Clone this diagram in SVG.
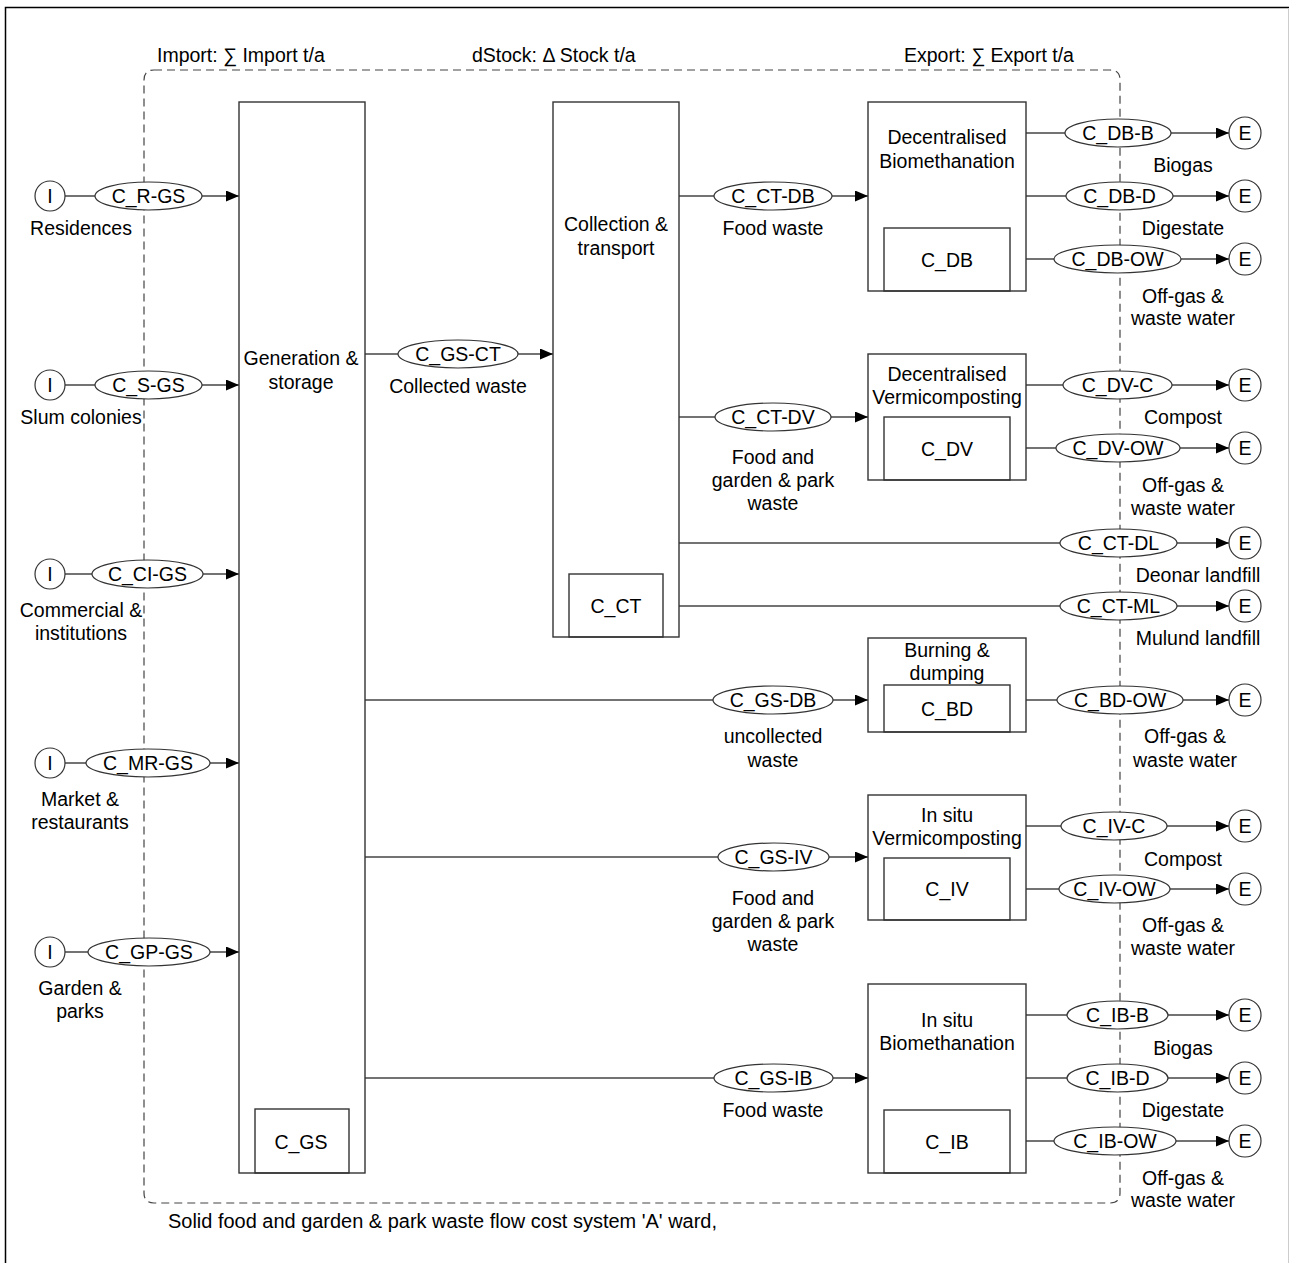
<svg xmlns="http://www.w3.org/2000/svg" width="1291" height="1263" viewBox="0 0 1291 1263">
<defs>
<marker id="arr" markerUnits="userSpaceOnUse" markerWidth="13" markerHeight="11" refX="13" refY="5.5" orient="auto">
<path d="M0,0 L13,5.5 L0,11 z" fill="#000"/>
</marker>
<style>
text{font-family:"Liberation Sans",Arial,sans-serif;font-size:19.5px;fill:#000;text-anchor:middle}
.box{fill:#fff;stroke:#333;stroke-width:1.4}
.inner{fill:none;stroke:#333;stroke-width:1.4}
.ell{fill:#fff;stroke:#333;stroke-width:1.2}
.circ{fill:#fff;stroke:#333;stroke-width:1.2}
.ln{fill:none;stroke:#444;stroke-width:1.3}
.arr{fill:none;stroke:#444;stroke-width:1.3;marker-end:url(#arr)}
.bnd{fill:none;stroke:#444;stroke-width:1.2;stroke-dasharray:8 5}
.st{text-anchor:start}
</style>
</defs>
<rect width="1291" height="1263" fill="#fff"/>
<g id="frame">
<path d="M5.5,1263 V7.5 H1289" fill="none" stroke="#000" stroke-width="1.5"/>
<path d="M1288.5,8 V1263" fill="none" stroke="#ccc" stroke-width="1"/>
</g>
<g id="boundary">
<path class="bnd" d="M154,70 H1110 Q1120,70 1120,80 V1193 Q1120,1203 1110,1203 H154 Q144,1203 144,1193 V80 Q144,70 154,70 Z"/>
<text class="st" x="157" y="62">Import: ∑ Import t/a</text>
<text class="st" x="472" y="62">dStock: Δ Stock t/a</text>
<text class="st" x="904" y="62">Export: ∑ Export t/a</text>
<text class="st" x="168" y="1228" textLength="549" lengthAdjust="spacingAndGlyphs">Solid food and garden &amp; park waste flow cost system 'A' ward,</text>
</g>
<g id="connectors">
<line class="arr" x1="65" y1="196" x2="239" y2="196"/>
<line class="arr" x1="65" y1="385" x2="239" y2="385"/>
<line class="arr" x1="65" y1="574" x2="239" y2="574"/>
<line class="arr" x1="65" y1="763" x2="239" y2="763"/>
<line class="arr" x1="65" y1="952" x2="239" y2="952"/>
<line class="arr" x1="365" y1="354" x2="553" y2="354"/>
<line class="arr" x1="365" y1="700" x2="868" y2="700"/>
<line class="arr" x1="365" y1="857" x2="868" y2="857"/>
<line class="arr" x1="365" y1="1078" x2="868" y2="1078"/>
<line class="arr" x1="679" y1="196" x2="868" y2="196"/>
<line class="arr" x1="679" y1="417" x2="868" y2="417"/>
<line class="arr" x1="679" y1="543" x2="1229" y2="543"/>
<line class="arr" x1="679" y1="606" x2="1229" y2="606"/>
<line class="arr" x1="1026" y1="133" x2="1229" y2="133"/>
<line class="arr" x1="1026" y1="196" x2="1229" y2="196"/>
<line class="arr" x1="1026" y1="259" x2="1229" y2="259"/>
<line class="arr" x1="1026" y1="385" x2="1229" y2="385"/>
<line class="arr" x1="1026" y1="448" x2="1229" y2="448"/>
<line class="arr" x1="1026" y1="700" x2="1229" y2="700"/>
<line class="arr" x1="1026" y1="826" x2="1229" y2="826"/>
<line class="arr" x1="1026" y1="889" x2="1229" y2="889"/>
<line class="arr" x1="1026" y1="1015" x2="1229" y2="1015"/>
<line class="arr" x1="1026" y1="1078" x2="1229" y2="1078"/>
<line class="arr" x1="1026" y1="1141" x2="1229" y2="1141"/>
</g>
<g id="flow-labels">
<ellipse class="ell" cx="148.5" cy="196" rx="53.5" ry="14"/><text x="148.5" y="203">C_R-GS</text>
<ellipse class="ell" cx="148.5" cy="385" rx="53.5" ry="14"/><text x="148.5" y="392">C_S-GS</text>
<ellipse class="ell" cx="147.5" cy="574" rx="55.5" ry="14"/><text x="147.5" y="581">C_CI-GS</text>
<ellipse class="ell" cx="148" cy="763" rx="62" ry="14"/><text x="148" y="770">C_MR-GS</text>
<ellipse class="ell" cx="149" cy="952" rx="61" ry="14"/><text x="149" y="959">C_GP-GS</text>
<ellipse class="ell" cx="458" cy="354" rx="60" ry="14"/><text x="458" y="361">C_GS-CT</text>
<text x="458" y="393">Collected waste</text>
<ellipse class="ell" cx="773" cy="700" rx="60" ry="14"/><text x="773" y="707">C_GS-DB</text>
<text x="773" y="743">uncollected</text><text x="773" y="767">waste</text>
<ellipse class="ell" cx="773.5" cy="857" rx="55.5" ry="14"/><text x="773.5" y="864">C_GS-IV</text>
<text x="773" y="905">Food and</text><text x="773" y="928">garden &amp; park</text><text x="773" y="951">waste</text>
<ellipse class="ell" cx="773.5" cy="1078" rx="59.5" ry="14"/><text x="773.5" y="1085">C_GS-IB</text>
<text x="773" y="1117">Food waste</text>
<ellipse class="ell" cx="773" cy="196" rx="59" ry="14"/><text x="773" y="203">C_CT-DB</text>
<text x="773" y="235">Food waste</text>
<ellipse class="ell" cx="773" cy="417" rx="58" ry="14"/><text x="773" y="424">C_CT-DV</text>
<text x="773" y="464">Food and</text><text x="773" y="487">garden &amp; park</text><text x="773" y="510">waste</text>
<ellipse class="ell" cx="1118.5" cy="543" rx="58.5" ry="14"/><text x="1118.5" y="550">C_CT-DL</text>
<text x="1198" y="582">Deonar landfill</text>
<ellipse class="ell" cx="1118.5" cy="606" rx="58.5" ry="14"/><text x="1118.5" y="613">C_CT-ML</text>
<text x="1198" y="645">Mulund landfill</text>
<ellipse class="ell" cx="1118" cy="133" rx="53" ry="14"/><text x="1118" y="140">C_DB-B</text>
<text x="1183" y="172">Biogas</text>
<ellipse class="ell" cx="1119.5" cy="196" rx="53.5" ry="14"/><text x="1119.5" y="203">C_DB-D</text>
<text x="1183" y="235">Digestate</text>
<ellipse class="ell" cx="1117.5" cy="259" rx="63.5" ry="14"/><text x="1117.5" y="266">C_DB-OW</text>
<text x="1183" y="303">Off-gas &amp;</text><text x="1183" y="325">waste water</text>
<ellipse class="ell" cx="1117.5" cy="385" rx="54.5" ry="14"/><text x="1117.5" y="392">C_DV-C</text>
<text x="1183" y="424">Compost</text>
<ellipse class="ell" cx="1118" cy="448" rx="62" ry="14"/><text x="1118" y="455">C_DV-OW</text>
<text x="1183" y="492">Off-gas &amp;</text><text x="1183" y="515">waste water</text>
<ellipse class="ell" cx="1120" cy="700" rx="63" ry="14"/><text x="1120" y="707">C_BD-OW</text>
<text x="1185" y="743">Off-gas &amp;</text><text x="1185" y="767">waste water</text>
<ellipse class="ell" cx="1114" cy="826" rx="53" ry="14"/><text x="1114" y="833">C_IV-C</text>
<text x="1183" y="866">Compost</text>
<ellipse class="ell" cx="1114.5" cy="889" rx="55.5" ry="14"/><text x="1114.5" y="896">C_IV-OW</text>
<text x="1183" y="932">Off-gas &amp;</text><text x="1183" y="955">waste water</text>
<ellipse class="ell" cx="1117.5" cy="1015" rx="50.5" ry="14"/><text x="1117.5" y="1022">C_IB-B</text>
<text x="1183" y="1055">Biogas</text>
<ellipse class="ell" cx="1117.5" cy="1078" rx="50.5" ry="14"/><text x="1117.5" y="1085">C_IB-D</text>
<text x="1183" y="1117">Digestate</text>
<ellipse class="ell" cx="1115" cy="1141" rx="61" ry="14"/><text x="1115" y="1148">C_IB-OW</text>
<text x="1183" y="1185">Off-gas &amp;</text><text x="1183" y="1207">waste water</text>
</g>
<g id="inputs">
<g id="in-residences"><circle class="circ" cx="50" cy="196" r="15"/><text x="50" y="203">I</text><text x="81" y="235">Residences</text></g>
<g id="in-slum"><circle class="circ" cx="50" cy="385" r="15"/><text x="50" y="392">I</text><text x="81" y="424">Slum colonies</text></g>
<g id="in-commercial"><circle class="circ" cx="50" cy="574" r="15"/><text x="50" y="581">I</text><text x="81" y="617">Commercial &amp;</text><text x="81" y="640">institutions</text></g>
<g id="in-market"><circle class="circ" cx="50" cy="763" r="15"/><text x="50" y="770">I</text><text x="80" y="806">Market &amp;</text><text x="80" y="829">restaurants</text></g>
<g id="in-garden"><circle class="circ" cx="50" cy="952" r="15"/><text x="50" y="959">I</text><text x="80" y="995">Garden &amp;</text><text x="80" y="1018">parks</text></g>
</g>
<g id="exports">
<g><circle class="circ" cx="1245" cy="133" r="16"/><text x="1245" y="140">E</text></g>
<g><circle class="circ" cx="1245" cy="196" r="16"/><text x="1245" y="203">E</text></g>
<g><circle class="circ" cx="1245" cy="259" r="16"/><text x="1245" y="266">E</text></g>
<g><circle class="circ" cx="1245" cy="385" r="16"/><text x="1245" y="392">E</text></g>
<g><circle class="circ" cx="1245" cy="448" r="16"/><text x="1245" y="455">E</text></g>
<g><circle class="circ" cx="1245" cy="543" r="16"/><text x="1245" y="550">E</text></g>
<g><circle class="circ" cx="1245" cy="606" r="16"/><text x="1245" y="613">E</text></g>
<g><circle class="circ" cx="1245" cy="700" r="16"/><text x="1245" y="707">E</text></g>
<g><circle class="circ" cx="1245" cy="826" r="16"/><text x="1245" y="833">E</text></g>
<g><circle class="circ" cx="1245" cy="889" r="16"/><text x="1245" y="896">E</text></g>
<g><circle class="circ" cx="1245" cy="1015" r="16"/><text x="1245" y="1022">E</text></g>
<g><circle class="circ" cx="1245" cy="1078" r="16"/><text x="1245" y="1085">E</text></g>
<g><circle class="circ" cx="1245" cy="1141" r="16"/><text x="1245" y="1148">E</text></g>
</g>
<g id="node-GS">
<rect class="box" x="239" y="102" width="126" height="1071"/>
<text x="301" y="365">Generation &amp;</text><text x="301" y="389">storage</text>
<rect class="inner" x="255" y="1109" width="94" height="64"/>
<text x="301" y="1149">C_GS</text>
</g>
<g id="node-CT">
<rect class="box" x="553" y="102" width="126" height="535"/>
<text x="616" y="231">Collection &amp;</text><text x="616" y="255">transport</text>
<rect class="inner" x="569" y="574" width="94" height="63"/>
<text x="616" y="613">C_CT</text>
</g>
<g id="node-DB">
<rect class="box" x="868" y="102" width="158" height="189"/>
<text x="947" y="144">Decentralised</text><text x="947" y="168">Biomethanation</text>
<rect class="inner" x="884" y="228" width="126" height="63"/>
<text x="947" y="267">C_DB</text>
</g>
<g id="node-DV">
<rect class="box" x="868" y="354" width="158" height="126"/>
<text x="947" y="381">Decentralised</text><text x="947" y="404">Vermicomposting</text>
<rect class="inner" x="884" y="417" width="126" height="63"/>
<text x="947" y="456">C_DV</text>
</g>
<g id="node-BD">
<rect class="box" x="868" y="638" width="158" height="94"/>
<text x="947" y="657">Burning &amp;</text><text x="947" y="680">dumping</text>
<rect class="inner" x="884" y="685" width="126" height="47"/>
<text x="947" y="716">C_BD</text>
</g>
<g id="node-IV">
<rect class="box" x="868" y="795" width="158" height="125"/>
<text x="947" y="822">In situ</text><text x="947" y="845">Vermicomposting</text>
<rect class="inner" x="884" y="858" width="126" height="62"/>
<text x="947" y="896">C_IV</text>
</g>
<g id="node-IB">
<rect class="box" x="868" y="984" width="158" height="189"/>
<text x="947" y="1027">In situ</text><text x="947" y="1050">Biomethanation</text>
<rect class="inner" x="884" y="1110" width="126" height="63"/>
<text x="947" y="1149">C_IB</text>
</g>
</svg>
